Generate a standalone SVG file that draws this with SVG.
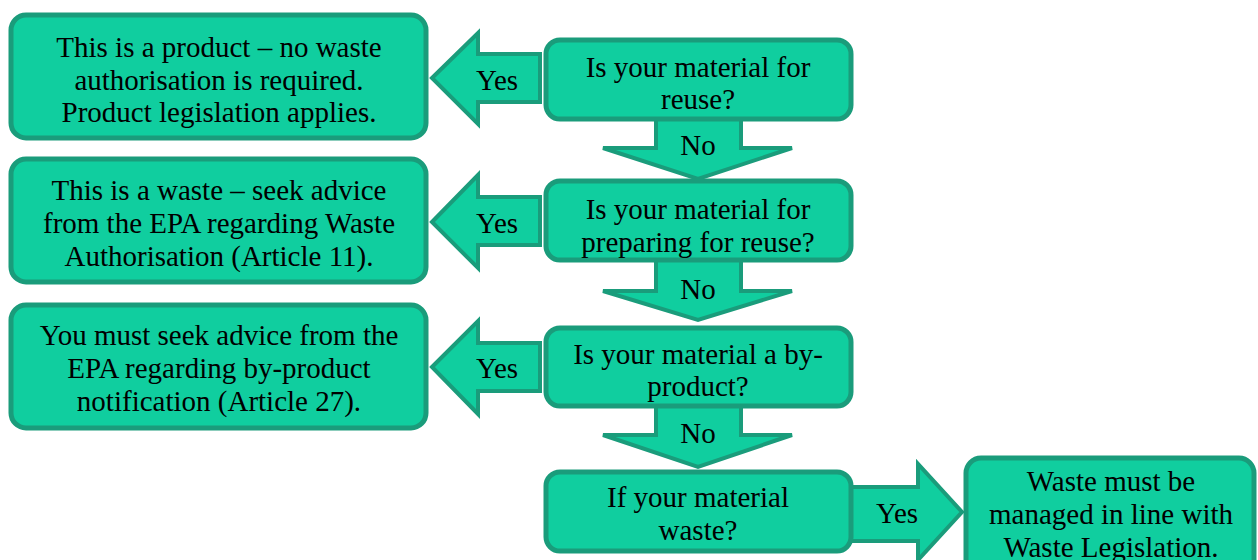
<svg xmlns="http://www.w3.org/2000/svg" width="1258" height="560" viewBox="0 0 1258 560">
<style>
.box{fill:#10CE9F;stroke:#1A9C7B;stroke-width:5}
.arr{fill:#10CE9F;stroke:#1A9C7B;stroke-width:4;stroke-linejoin:miter}
text{font-family:"Liberation Serif","Times New Roman",serif;font-size:29px;fill:#000;text-anchor:middle}
</style>
<rect width="1258" height="560" fill="#ffffff"/>
<g id="connectors">
  <polygon class="arr" points="432,78 478,33 478,54 540,54 540,102 478,102 478,124"/>
  <text x="497" y="90">Yes</text>
  <polygon class="arr" points="432,222 478,175 478,197 540,197 540,245 478,245 478,268"/>
  <text x="497" y="233">Yes</text>
  <polygon class="arr" points="432,367 478,321 478,343 540,343 540,391 478,391 478,414"/>
  <text x="497" y="378">Yes</text>
  <polygon class="arr" points="656,118 741,118 741,148 792,148 698,179 603,148 656,148"/>
  <text x="698" y="155">No</text>
  <polygon class="arr" points="656,260 741,260 741,291 792,291 698,320 603,291 656,291"/>
  <text x="698" y="299">No</text>
  <polygon class="arr" points="656,405 741,405 741,435 792,435 698,467 603,435 656,435"/>
  <text x="698" y="443">No</text>
  <polygon class="arr" points="850,487 918,487 918,464 962,512 918,560 918,541 850,541"/>
  <text x="897" y="523">Yes</text>
</g>
<g id="node-product">
  <rect class="box" x="11" y="15" width="415" height="123" rx="15"/>
  <text x="219" y="57">This is a product – no waste</text>
  <text x="219" y="90">authorisation is required.</text>
  <text x="219" y="122">Product legislation applies.</text>
</g>
<g id="node-waste-advice">
  <rect class="box" x="11" y="159" width="415" height="123" rx="15"/>
  <text x="219" y="200">This is a waste – seek advice</text>
  <text x="219" y="233">from the EPA regarding Waste</text>
  <text x="219" y="266">Authorisation (Article 11).</text>
</g>
<g id="node-byproduct-advice">
  <rect class="box" x="11" y="305" width="415" height="123" rx="15"/>
  <text x="219" y="345">You must seek advice from the</text>
  <text x="219" y="378">EPA regarding by-product</text>
  <text x="219" y="411">notification (Article 27).</text>
</g>
<g id="node-q-reuse">
  <rect class="box" x="546" y="40" width="305" height="79" rx="14"/>
  <text x="698" y="77">Is your material for</text>
  <text x="698" y="109">reuse?</text>
</g>
<g id="node-q-prep">
  <rect class="box" x="546" y="181" width="305" height="79" rx="14"/>
  <text x="698" y="219">Is your material for</text>
  <text x="698" y="252">preparing for reuse?</text>
</g>
<g id="node-q-byproduct">
  <rect class="box" x="546" y="328" width="305" height="78" rx="14"/>
  <text x="698" y="364">Is your material a by-</text>
  <text x="698" y="396">product?</text>
</g>
<g id="node-q-waste">
  <rect class="box" x="546" y="472" width="305" height="79" rx="14"/>
  <text x="698" y="507">If your material</text>
  <text x="698" y="540">waste?</text>
</g>
<g id="node-waste-managed">
  <rect class="box" x="966" y="458" width="288" height="120" rx="15"/>
  <text x="1111" y="491">Waste must be</text>
  <text x="1111" y="524">managed in line with</text>
  <text x="1111" y="557">Waste Legislation.</text>
</g>
</svg>
